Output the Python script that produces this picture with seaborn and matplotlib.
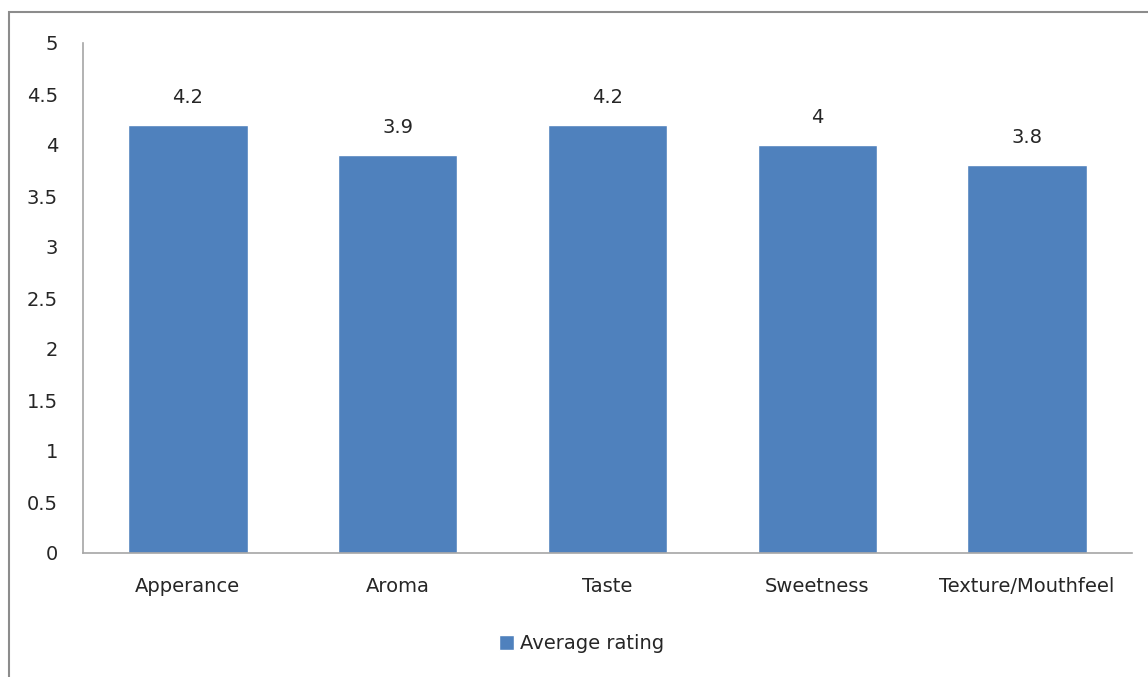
import matplotlib
matplotlib.use("Agg")
import matplotlib.pyplot as plt
import seaborn as sns
import pandas as pd
from matplotlib.patches import Rectangle

categories = ["Apperance", "Aroma", "Taste", "Sweetness", "Texture/Mouthfeel"]
ratings = [4.2, 3.9, 4.2, 4.0, 3.8]
rating_labels = ["4.2", "3.9", "4.2", "4", "3.8"]
yticks = [0, 0.5, 1, 1.5, 2, 2.5, 3, 3.5, 4, 4.5, 5]
ytick_labels = ["0", "0.5", "1", "1.5", "2", "2.5", "3", "3.5", "4", "4.5", "5"]
series_name = "Average rating"

sns.set_style("white")
plt.rcParams["font.family"] = ["DejaVu Sans"]

bar_color = "#4f81bd"
text_color = "#262626"
fs = 14

df = pd.DataFrame({"Category": categories, "Rating": ratings})

fig = plt.figure(figsize=(11.48, 6.77), dpi=100)
ax = fig.add_axes([83 / 1148, 1 - 553 / 677, (1132 - 83) / 1148, (553 - 43) / 677])

sns.barplot(data=df, x="Category", y="Rating", color=bar_color, width=0.57,
            saturation=1, ax=ax, label=series_name)

ax.set_xlim(-0.5, len(categories) - 0.5)
ax.set_ylim(0, 5)
ax.set_yticks(yticks)
ax.set_yticklabels(ytick_labels)
ax.set_xlabel("")
ax.set_ylabel("")
ax.tick_params(axis="both", length=0, labelsize=fs, colors=text_color)
ax.tick_params(axis="y", pad=18)
ax.tick_params(axis="x", pad=17)

for side in ["top", "right"]:
    ax.spines[side].set_visible(False)
for side in ["left", "bottom"]:
    ax.spines[side].set_color("#a6a6a6")
    ax.spines[side].set_linewidth(1.2)

for container in ax.containers:
    ax.bar_label(container, labels=rating_labels, padding=13, fontsize=fs,
                 color=text_color)

ax.legend(loc="upper center", bbox_to_anchor=(0.475, -0.125), frameon=False,
          fontsize=fs, handlelength=0.8, handleheight=0.8, handletextpad=0.3,
          labelcolor=text_color)

# outer chart frame
fig.patches.append(Rectangle((9 / 1148, -0.05), 1.2, 1 - 12 / 677 + 0.05,
                             transform=fig.transFigure, fill=False,
                             edgecolor="#8c8c8c", linewidth=1.5))

fig.savefig("out.png", dpi=100, facecolor="white")
